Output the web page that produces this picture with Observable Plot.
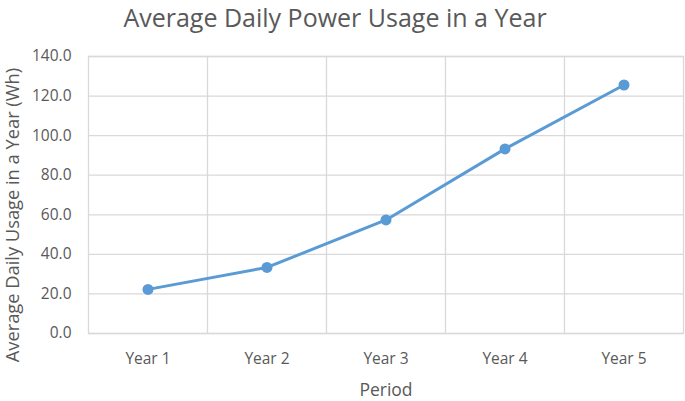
<!DOCTYPE html>
<html>
<head>
<meta charset="utf-8">
<script src="https://cdn.jsdelivr.net/npm/d3@7"></script>
<script src="https://cdn.jsdelivr.net/npm/@observablehq/plot@0.6"></script>
<style>
  html, body { margin: 0; padding: 0; background: #fff; }
  #wrap { width: 685px; font-family: "Open Sans", sans-serif; }
  #title { height: 40px; line-height: 34px; font-size: 25px; color: #595959; text-align: center; padding-right: 15px; box-sizing: border-box; white-space: nowrap; }
</style>
</head>
<body>
<div id="wrap">
  <div id="title">Average Daily Power Usage in a Year</div>
  <div id="chart"></div>
</div>
<script>
const titleText = "Average Daily Power Usage in a Year";
const periods = ["Year 1", "Year 2", "Year 3", "Year 4", "Year 5"];
const usage = [22.3, 33.4, 57.4, 93.3, 125.6];
const yTicks = [0, 20, 40, 60, 80, 100, 120, 140];
const xLabel = "Period";
const yLabel = "Average Daily Usage in a Year (Wh)";

const data = periods.map((p, i) => ({period: p, idx: i + 1, value: usage[i]}));
const grid = "#d9d9d9";
const blue = "#5b9bd5";
const textColor = "#595959";

const chart = Plot.plot({
  width: 685,
  height: 361,
  marginTop: 16,
  marginBottom: 68,
  marginLeft: 88,
  marginRight: 2,
  style: {fontFamily: "'Open Sans', sans-serif", fontSize: "15.5px", color: textColor, background: "#fff", overflow: "visible"},
  x: {type: "linear", domain: [0.5, periods.length + 0.5], ticks: data.map(d => d.idx), tickFormat: i => periods[i - 1], tickSize: 0, tickPadding: 19, label: null},
  y: {domain: [0, 140], ticks: yTicks, tickFormat: d => d.toFixed(1), tickSize: 0, tickPadding: 17, label: null},
  marks: [
    Plot.ruleY(yTicks, {stroke: grid, strokeWidth: 1.3}),
    Plot.ruleX(data.slice(1), {x: d => d.idx - 0.5, stroke: grid, strokeWidth: 1.3}),
    Plot.frame({stroke: grid, strokeWidth: 1.3}),
    Plot.line(data, {x: "idx", y: "value", stroke: blue, strokeWidth: 3}),
    Plot.dot(data, {x: "idx", y: "value", fill: blue, r: 5.5}),
    Plot.text([xLabel], {frameAnchor: "bottom", dy: 62, fontSize: 17.5, fill: textColor}),
    Plot.text([yLabel], {frameAnchor: "left", textAnchor: "middle", rotate: -90, dx: -75, dy: 20, fontSize: 18.3, fill: textColor})
  ]
});
document.getElementById("chart").appendChild(chart);
</script>
</body>
</html>
